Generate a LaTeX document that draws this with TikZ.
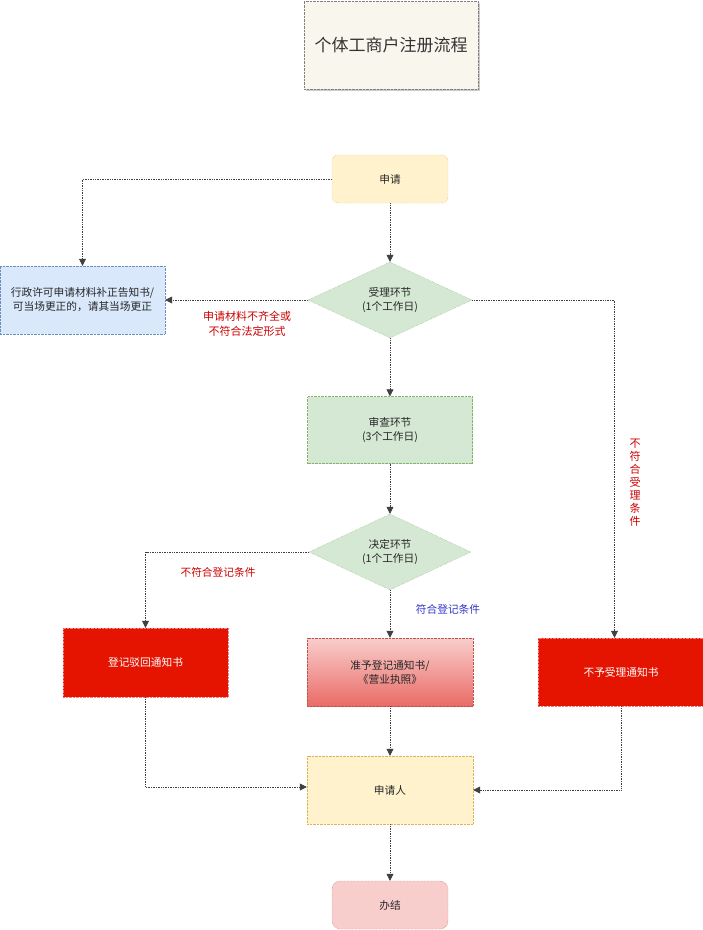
\documentclass[tikz,border=0pt]{standalone}
\usepackage{fontspec}
\setmainfont{Noto Sans CJK SC}
\usetikzlibrary{shapes.geometric,arrows.meta,shadows}
\definecolor{titlefill}{HTML}{F9F7ED}
\definecolor{yelfill}{HTML}{FFF2CC}
\definecolor{yelline}{HTML}{D6B656}
\definecolor{bluefill}{HTML}{DAE8FC}
\definecolor{blueline}{HTML}{6C8EBF}
\definecolor{grnfill}{HTML}{D5E8D4}
\definecolor{grnline}{HTML}{82B366}
\definecolor{redfill}{HTML}{E51400}
\definecolor{redline}{HTML}{F08080}
\definecolor{pinktop}{HTML}{F8CECC}
\definecolor{pinkbot}{HTML}{EA6B66}
\definecolor{pinkline}{HTML}{B85450}
\definecolor{labred}{HTML}{CC0000}
\definecolor{labblue}{HTML}{3333CC}
\begin{document}
\begin{tikzpicture}[x=1pt,y=-1pt,font=\fontsize{10.7}{14}\selectfont,
  box/.style={draw,densely dotted,inner sep=0pt,align=center,text=black!85},
  yel/.style={box,fill=yelfill,draw=yelline},
  grn/.style={box,fill=grnfill,draw=grnline},
  redbox/.style={box,fill=redfill,draw=redline,text=white},
  dia/.style={grn,diamond,aspect=2.16},
  conn/.style={densely dotted,black!75,line width=.7pt,-{Triangle[length=7pt,width=7pt]}},
  lab/.style={align=center,inner sep=0pt}]
\useasboundingbox (0,0) rectangle (703,930);
\node[box,fill=titlefill,draw=black!50,minimum width=174pt,minimum height=88pt,
  drop shadow={shadow xshift=2pt,shadow yshift=-2pt,opacity=.4},
  font=\fontsize{17}{20}\selectfont,text=black!80] at (391,45) (title) {个体工商户注册流程};
\node[yel,rounded corners=6pt,minimum width=116pt,minimum height=48pt] at (390,179) (apply) {申请};
\node[box,fill=bluefill,draw=blueline,minimum width=165pt,minimum height=68pt] at (82.5,300) (fix) {行政许可申请材料补正告知书/\\可当场更正的，请其当场更正};
\node[dia,minimum width=164pt,minimum height=76pt] at (390,300) (accept) {受理环节\\(1个工作日)};
\node[grn,minimum width=165pt,minimum height=67pt] at (390,430) (review) {审查环节\\(3个工作日)};
\node[dia,minimum width=162pt,minimum height=76pt] at (390,552) (decide) {决定环节\\(1个工作日)};
\node[redbox,minimum width=165pt,minimum height=69pt] at (145.5,662.5) (reject) {登记驳回通知书};
\node[box,top color=pinktop,bottom color=pinkbot,draw=pinkline,minimum width=166pt,minimum height=68pt] at (390,672) (grant) {准予登记通知书/\\《营业执照》};
\node[redbox,minimum width=166pt,minimum height=68pt] at (621,672) (refuse) {不予受理通知书};
\node[yel,minimum width=166pt,minimum height=68pt] at (390,790) (person) {申请人};
\node[box,fill=pinktop,draw=pinkline,rounded corners=8pt,minimum width=116pt,minimum height=48pt] at (390,905) (done) {办结};
\node[lab,text=labred,font=\fontsize{11}{15}\selectfont] at (247,324) (nofit) {申请材料不齐全或\\不符合法定形式};
\node[lab,text=labred,font=\fontsize{11}{13}\selectfont] at (635,483) (noacc) {不\\符\\合\\受\\理\\条\\件};
\node[lab,text=labred] at (218,572) (noreg) {不符合登记条件};
\node[lab,text=labblue] at (448,609) (okreg) {符合登记条件};
\draw[conn] (apply.west) -| (fix.north);
\draw[conn] (apply) -- (accept);
\draw[conn] (accept) -- (fix);
\draw[conn] (accept.east) -| ([xshift=-6.5pt]refuse.north);
\draw[conn] (accept) -- (review);
\draw[conn] (review) -- (decide);
\draw[conn] (decide.west) -| (reject.north);
\draw[conn] (decide) -- (grant);
\draw[conn] (reject.south) |- ([yshift=3pt]person.west);
\draw[conn] (refuse.south) |- (person.east);
\draw[conn] (grant) -- (person);
\draw[conn] (person) -- (done);
\end{tikzpicture}
\end{document}
